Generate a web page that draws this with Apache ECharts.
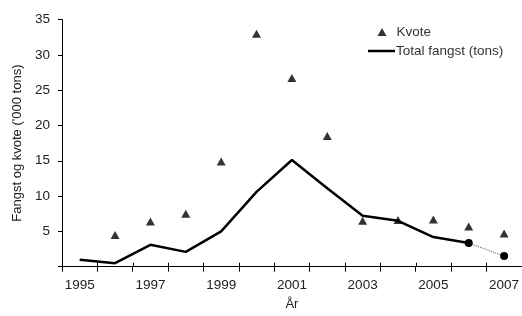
<!DOCTYPE html>
<html><head><meta charset="utf-8">
<script src="https://cdn.jsdelivr.net/npm/echarts@6/dist/echarts.min.js"></script>
<style>html,body{margin:0;padding:0;background:#fff}#c{width:522px;height:316px}</style>
</head><body><div id="c"></div>
<script>
var years = ['1995','1996','1997','1998','1999','2000','2001','2002','2003','2004','2005','2006','2007'];
var kvote = [null, 4.5, 6.4, 7.5, 14.9, 33.0, 26.7, 18.5, 6.5, 6.6, 6.7, 5.7, 4.7];
var fangst = [1.0, 0.5, 3.1, 2.1, 5.0, 10.6, 15.1, 11.1, 7.2, 6.5, 4.2, 3.35, null];
var fangstEst = [null, null, null, null, null, null, null, null, null, null, null, 3.35, 1.5];
var yTicks = [0, 5, 10, 15, 20, 25, 30, 35];

var font = 'Liberation Sans, Arial, sans-serif';
var gridPos = {left: 62, top: 19.5, bottom: 49.3, right: -3, containLabel: false};
var chart = echarts.init(document.getElementById('c'), null, {renderer:'canvas'});
chart.setOption({
  animation: false,
  backgroundColor: '#fff',
  grid: [gridPos, Object.assign({}, gridPos)],
  legend: [{
    left: 377.5, top: 25, padding: 0, itemWidth: 9, itemHeight: 8,
    textStyle: {fontFamily: font, fontSize: 13.5, color: '#333', padding: [0,0,0,5]},
    data: [{name: 'Kvote', icon: 'triangle'}]
  }, {
    left: 368, top: 44, padding: 0, itemWidth: 27, itemHeight: 2.5,
    textStyle: {fontFamily: font, fontSize: 13.5, color: '#333', padding: [0,0,0,-4]},
    data: [{name: 'Total fangst (tons)', icon: 'rect'}]
  }],
  xAxis: [{
    type: 'category', data: years, boundaryGap: true, gridIndex: 0,
    name: 'År', nameLocation: 'middle', nameGap: 25,
    nameTextStyle: {fontFamily: font, fontSize: 13, color: '#222'},
    axisLine: {lineStyle: {color: '#000', width: 1}},
    axisTick: {show: true, interval: 0, length: 5, lineStyle: {color: '#000'}},
    axisLabel: {interval: 1, margin: 12, fontFamily: font, fontSize: 13.5, color: '#222'},
    splitLine: {show: false}
  }, {
    type: 'category', data: years, boundaryGap: true, gridIndex: 1, position: 'bottom',
    axisLine: {show: false},
    axisTick: {show: true, inside: true, interval: 0, length: 4, lineStyle: {color: '#000'}},
    axisLabel: {show: false}, splitLine: {show: false}
  }],
  yAxis: [{
    type: 'value', min: yTicks[0], max: yTicks[yTicks.length-1], interval: 5, gridIndex: 0,
    name: "Fangst og kvote ('000 tons)", nameLocation: 'middle', nameGap: 37,
    nameTextStyle: {fontFamily: font, fontSize: 13, color: '#222'},
    axisLine: {show: true, lineStyle: {color: '#000', width: 1}},
    axisTick: {show: true, length: 4, lineStyle: {color: '#000'}},
    axisLabel: {margin: 12, fontFamily: font, fontSize: 13.5, color: '#222',
      formatter: function(v){ return v === 0 ? '' : String(v); }},
    splitLine: {show: false}
  }, {
    type: 'value', min: 0, max: 35, gridIndex: 1, show: false
  }],
  series: [{
    name: 'Kvote', type: 'scatter', data: kvote, symbol: 'triangle', symbolSize: [9, 8],
    itemStyle: {color: '#000'}
  }, {
    name: 'Total fangst (tons)', type: 'line', data: fangst, symbol: 'none',
    lineStyle: {color: '#000', width: 2.5}, itemStyle: {color: '#000'}
  }, {
    name: 'est', type: 'line', data: fangstEst, symbol: 'circle', symbolSize: 8, showSymbol: true,
    lineStyle: {color: '#555', width: 1, type: 'dotted'}, itemStyle: {color: '#000'}
  }]
});
</script></body></html>
